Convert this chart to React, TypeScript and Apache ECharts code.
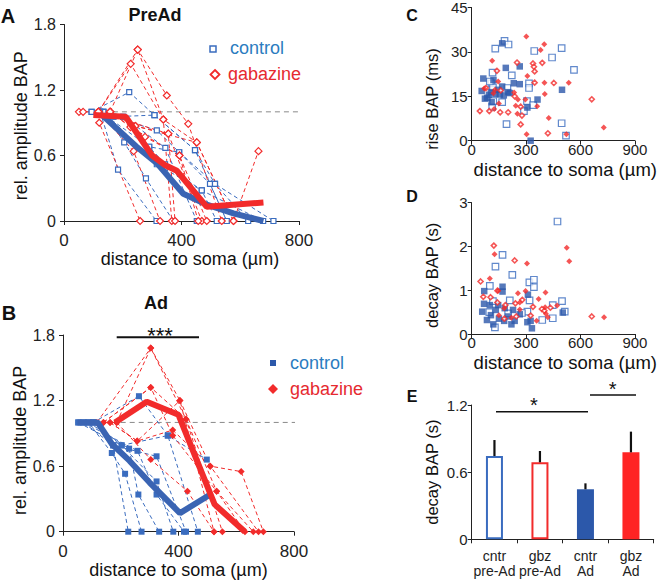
import React, { useEffect, useRef } from 'react';
import * as echarts from 'echarts';

// ---------- Panel A (PreAd): individual traces [distance µm, rel. amplitude] ----------
const preAdCtrlTraces: number[][][] = [
  [[94, 1.0], [222, 1.18], [308, 0.97], [446, 0.65], [514, 0.34], [627, 0]],
  [[123, 1.0], [168, 0.955], [316, 0.83], [392, 0.63], [497, 0.34], [554, 0]],
  [[134, 1.0], [202, 0.955], [290, 0.68], [344, 0.52], [469, 0.28], [520, 0]],
  [[123, 1.0], [184, 0.47], [315, 0]],
  [[134, 1.0], [205, 0.72], [279, 0.39], [372, 0]],
  [[94, 1.0], [202, 0.955], [345, 0.67], [452, 0]],
  [[134, 1.0], [316, 0.52], [469, 0.28], [678, 0]],
  [[123, 1.0], [290, 0.68], [392, 0.63], [514, 0.34], [713, 0]],
  [[168, 0.955], [308, 0.97], [446, 0.65], [554, 0]],
];
const preAdGbzTraces: number[][][] = [
  [[51, 1.0], [65, 1.0], [117, 1.0], [251, 1.57], [350, 1.15], [423, 0.89], [537, 0]],
  [[117, 1.0], [227, 1.44], [338, 0.93], [452, 0.72], [577, 0]],
  [[117, 1.0], [120, 0.9], [259, 0]],
  [[157, 1.0], [243, 0.87], [355, 0.8], [469, 0]],
  [[157, 1.0], [276, 0.77], [393, 0.6], [486, 0]],
  [[117, 1.0], [237, 0.64], [327, 0]],
  [[157, 1.0], [251, 1.57], [338, 0.93], [367, 0]],
  [[157, 1.0], [243, 0.87], [452, 0.72], [577, 0], [662, 0.64]],
  [[157, 1.0], [226, 0.86], [393, 0.6], [457, 0]],
  [[117, 1.0], [355, 0.8], [378, 0]],
];
const preAdCtrlMean: number[][] = [[130, 0.97], [247, 0.68], [316, 0.53], [406, 0.25], [486, 0.15], [577, 0.07], [679, 0]];
const preAdGbzMean: number[][] = [[100, 0.97], [210, 0.955], [300, 0.6], [345, 0.51], [384, 0.46], [486, 0.13], [679, 0.17]];

// ---------- Panel B (Ad) ----------
const adCtrlTraces: number[][][] = [
  [[53, 1], [105, 1], [263, 1.24], [363, 0.88], [498, 0.66]],
  [[71, 1], [174, 0.79], [324, 0.69], [426, 0]],
  [[88, 1], [169, 0.72], [215, 0.53], [272, 0]],
  [[105, 1], [203, 0.79], [324, 0.46], [382, 0]],
  [[88, 1], [229, 0.76], [261, 0.34], [333, 0]],
  [[71, 1], [258, 0.74], [324, 0.34], [419, 0]],
  [[105, 1], [174, 0.79], [226, 0]],
  [[53, 1], [203, 0.79], [363, 0.88], [467, 0]],
];
const adGbzTraces: number[][][] = [
  [[117, 1], [304, 1.68], [405, 1.2], [523, 0]],
  [[140, 1], [304, 1.32], [426, 1.03], [552, 0]],
  [[163, 1], [257, 0.83], [380, 0.93], [510, 0.6], [617, 0.55], [694, 0]],
  [[186, 1], [304, 0.66], [431, 0.37], [523, 0]],
  [[140, 1], [304, 1.32], [380, 0.88], [532, 0.37], [659, 0]],
  [[163, 1], [257, 0.83], [405, 1.2], [510, 0.6], [677, 0]],
  [[186, 1], [304, 1.68], [426, 1.03], [532, 0.37], [630, 0]],
];
const adCtrlMean: number[][] = [[50, 1.0], [120, 1.0], [170, 0.8], [230, 0.65], [300, 0.45], [405, 0.17], [510, 0.34]];
const adGbzMean: number[][] = [[180, 1.0], [290, 1.19], [400, 1.07], [525, 0.25], [630, 0]];
const refLine: number[][] = [[44, 1], [820, 1]];

// ---------- Panel C: rise BAP (ms) vs distance ----------
const riseCtrlPre: number[][] = [[181, 33.7], [203, 32.5], [130, 31.1], [345, 30.3], [496, 31.3], [443, 28.1], [564, 23.9], [221, 22.1], [115, 23], [109, 19.4], [316, 19.4], [316, 17.8], [197, 17.8], [117, 18], [100, 20], [168, 13], [113, 11.4], [305, 13.4], [339, 12], [288, 10], [192, 5.6], [496, 5.9], [520, 1.7], [119, 13.4]];
const riseCtrlAd: number[][] = [[168, 32.9], [265, 25.1], [188, 24.6], [64, 21], [232, 19.4], [265, 19.1], [168, 18.3], [55, 16.8], [106, 16.4], [146, 17.2], [201, 16.4], [498, 17.2], [73, 14.2], [95, 15.5], [131, 15.8], [177, 15.3], [210, 16.1], [363, 13.9], [307, 11.2], [110, 13], [325, 0], [155, 15.6], [85, 14.5], [120, 20.5]];
const riseGbzPre: number[][] = [[250, 26.4], [338, 26.1], [343, 25], [347, 23.4], [389, 26.3], [139, 23.6], [347, 19.6], [453, 19.5], [662, 14], [237, 15], [270, 11.5], [277, 8.5], [201, 9.6], [157, 9.6], [97, 10], [45, 10], [420, 2.5], [270, 5.5], [78, 17.8], [160, 17]];
const riseGbzAd: number[][] = [[301, 35.2], [400, 32.6], [380, 30.6], [113, 27], [307, 21.9], [401, 19.6], [535, 19.6], [146, 20], [403, 15.8], [234, 16.3], [128, 17.2], [255, 13.9], [243, 11.8], [361, 11.6], [150, 12.6], [69, 17.6], [124, 10.7], [252, 9.1], [425, 7.7], [303, 2.2], [522, 2.2], [728, 4.5], [296, 13.9], [120, 16]];

// ---------- Panel D: decay BAP (s) vs distance ----------
const decayCtrlPre: number[][] = [[473, 2.57], [170, 1.81], [131, 1.54], [224, 1.35], [318, 1.18], [343, 1.24], [343, 1.07], [100, 1.1], [498, 0.75], [117, 0.75], [210, 0.77], [319, 0.77], [307, 0.51], [447, 0.66], [513, 0.51], [447, 0.36], [277, 0.48], [128, 0.15], [97, 0.5], [201, 0.47], [389, 0.32]];
const decayCtrlAd: number[][] = [[69, 0.98], [170, 1.08], [170, 0.97], [310, 0.9], [68, 0.69], [100, 0.66], [146, 0.66], [182, 0.59], [228, 0.55], [58, 0.51], [106, 0.43], [133, 0.55], [84, 0.32], [179, 0.3], [237, 0.3], [325, 0.3], [332, 0.13], [307, 0.27], [502, 0.49], [219, 0.22], [119, 0.22], [265, 0.45], [150, 0.35], [200, 0.4]];
const decayGbzPre: number[][] = [[122, 2.02], [237, 1.68], [49, 1.2], [104, 0.84], [142, 0.72], [64, 0.85], [142, 0.99], [186, 0.66], [241, 0.7], [279, 0.78], [338, 0.62], [387, 0.57], [434, 0.6], [662, 0.4], [246, 0.4], [401, 0.53], [325, 0.42], [180, 0.35]];
const decayGbzAd: number[][] = [[126, 1.82], [305, 1.61], [524, 1.97], [538, 1.66], [100, 1.27], [255, 0.93], [297, 0.98], [407, 0.95], [146, 0.99], [369, 0.8], [265, 0.56], [409, 0.46], [405, 0.61], [179, 0.59], [265, 0.72], [730, 0.38], [471, 0.65], [358, 0.3], [150, 0.43], [219, 0.37], [420, 0.38]];

// ---------- Panel E: mean decay BAP (s) ----------
const barCategories = ['cntr\npre-Ad', 'gbz\npre-Ad', 'cntr\nAd', 'gbz\nAd'];
const barMeans = [0.744, 0.688, 0.447, 0.777];
const barUpper = [0.887, 0.789, 0.5, 0.962];

const FONT = '"Liberation Sans", Arial, Helvetica, sans-serif';
const AXIS = '#222';
const BLUE = '#3a6cbf';
const BLUE_THICK = '#3a64b3';
const BLUE_FILL = '#2c58aa';
const BLUE_TEXT = '#2b7cc0';
const RED = '#f22b2b';
const RED_TEXT = '#e62a30';

const fmt1 = (v: number) => (v === 0 ? '0' : v.toFixed(1));

function valueAxis(grid: number, min: number, max: number, interval: number, name: string, nameGap: number, labelSize: number, nameSize: number, margin: number, extra: any = {}) {
  return {
    type: 'value', gridIndex: grid, min, max, interval, name, nameLocation: 'middle', nameGap,
    nameTextStyle: { fontFamily: FONT, fontSize: nameSize, color: '#111', ...(extra.nameStyle || {}) },
    axisLine: { show: true, onZero: false, lineStyle: { color: AXIS, width: 1 } },
    axisTick: { show: true, length: 4, lineStyle: { color: AXIS } },
    splitLine: { show: false },
    axisLabel: { fontFamily: FONT, fontSize: labelSize, color: '#222', margin, formatter: extra.formatter },
  };
}

export default function App() {
  const ref = useRef<HTMLDivElement>(null);
  useEffect(() => {
    if (!ref.current) return;
    const chart = echarts.init(ref.current, undefined, { renderer: 'svg' });

    const traceSeries = (traces: number[][][], grid: number, color: string, symbol: string, size: number, filled: boolean) =>
      traces.map((t) => ({
        type: 'line', xAxisIndex: grid, yAxisIndex: grid, data: t, symbol, symbolSize: size, clip: false,
        lineStyle: { color, width: 1, type: [4, 3] },
        itemStyle: filled ? { color } : { color: '#fff', borderColor: color, borderWidth: 1.2 },
        z: 2, silent: true,
      }));
    const meanSeries = (data: number[][], grid: number, color: string) => ({
      type: 'line', xAxisIndex: grid, yAxisIndex: grid, data, symbol: 'none', clip: false,
      lineStyle: { color, width: 6 }, z: 4, silent: true,
    });
    const refSeries = (grid: number) => ({
      type: 'line', xAxisIndex: grid, yAxisIndex: grid, data: refLine, symbol: 'none', clip: false,
      lineStyle: { color: '#8a8a8a', width: 1, type: [5, 4] }, z: 1, silent: true,
    });
    const scatter = (data: number[][], grid: number, symbol: string, size: number, style: any) => ({
      type: 'scatter', xAxisIndex: grid, yAxisIndex: grid, data, symbol, symbolSize: size, itemStyle: style, silent: true,
    });

    const barStyles = [
      { color: '#fff', borderColor: BLUE, borderWidth: 2 },
      { color: '#fff', borderColor: RED, borderWidth: 2 },
      { color: BLUE_FILL },
      { color: '#ff2424' },
    ];

    const text = (t: string, x: number, y: number, size: number, color = '#111', bold = false, align = 'center') => ({
      type: 'text', x, y, silent: true,
      style: { text: t, fontFamily: FONT, fontSize: size, fontWeight: bold ? 'bold' : 'normal', fill: color, textAlign: align, textVerticalAlign: 'middle' },
    });
    const diamond = (cx: number, cy: number, r: number, style: any) => ({
      type: 'polygon', silent: true, shape: { points: [[cx, cy - r], [cx + r, cy], [cx, cy + r], [cx - r, cy]] }, style,
    });

    const openSq = { color: '#fff', borderColor: BLUE, borderWidth: 1.2 };
    const openDia = { color: '#fff', borderColor: RED, borderWidth: 1.6 };

    const option: any = {
      animation: false,
      grid: [
        { left: 64, top: 24.5, width: 235, height: 196.5 },
        { left: 63, top: 335, width: 231, height: 196.7 },
        { left: 471.7, top: 6.2, width: 164.3, height: 134.5 },
        { left: 471.7, top: 202.7, width: 164.3, height: 131.3 },
        { left: 471.7, top: 405, width: 182, height: 134.3 },
      ],
      xAxis: [
        valueAxis(0, 0, 800, 400, 'distance to soma (µm)', 28, 17, 18, 11, { nameStyle: { padding: [0, 0, 0, 17] } }),
        valueAxis(1, 0, 800, 400, 'distance to soma (µm)', 29, 17, 18, 11),
        valueAxis(2, 0, 900, 300, 'distance to soma (µm)', 19, 15, 18.5, 1, { nameStyle: { padding: [0, 0, 0, 24] } }),
        valueAxis(3, 0, 900, 300, 'distance to soma (µm)', 18.5, 15, 18.5, 1, { nameStyle: { padding: [0, 0, 0, 24] } }),
        {
          type: 'category', gridIndex: 4, data: barCategories, boundaryGap: true,
          axisLine: { show: true, lineStyle: { color: AXIS, width: 1 } },
          axisTick: { show: true, length: 4, alignWithLabel: false, lineStyle: { color: AXIS } },
          axisLabel: { fontFamily: FONT, fontSize: 14, lineHeight: 15, color: '#222', margin: 9, interval: 0 },
        },
      ],
      yAxis: [
        valueAxis(0, 0, 1.8, 0.6, 'rel. amplitude BAP', 32, 16, 18, 8, { formatter: fmt1, nameStyle: { padding: [0, 6, 0, 0] } }),
        valueAxis(1, 0, 1.8, 0.6, 'rel. amplitude BAP', 31, 16, 18, 8, { formatter: fmt1, nameStyle: { padding: [0, 14, 0, 0] } }),
        valueAxis(2, 0, 45, 15, 'rise BAP (ms)', 31.5, 15, 16.5, 4, { nameStyle: { padding: [0, 50, 0, 0] } }),
        valueAxis(3, 0, 3, 1, 'decay BAP (s)', 31.5, 15, 16.5, 4, { nameStyle: { padding: [0, 14, 0, 0] } }),
        valueAxis(4, 0, 1.2, 0.6, 'decay BAP (s)', 31.5, 15, 16.5, 4, { formatter: fmt1 }),
      ],
      series: [
        refSeries(0),
        ...traceSeries(preAdCtrlTraces, 0, BLUE, 'rect', 5, false),
        ...traceSeries(preAdGbzTraces, 0, RED, 'diamond', 7, false),
        meanSeries(preAdCtrlMean, 0, BLUE_THICK),
        meanSeries(preAdGbzMean, 0, RED),
        refSeries(1),
        ...traceSeries(adCtrlTraces, 1, BLUE, 'rect', 6, true),
        ...traceSeries(adGbzTraces, 1, RED, 'diamond', 7, true),
        meanSeries(adCtrlMean, 1, BLUE_THICK),
        meanSeries(adGbzMean, 1, RED),
        scatter(riseCtrlPre, 2, 'rect', 6.5, openSq),
        scatter(riseCtrlAd, 2, 'rect', 6.5, { color: BLUE_FILL }),
        scatter(riseGbzPre, 2, 'diamond', 5, openDia),
        scatter(riseGbzAd, 2, 'diamond', 6, { color: RED }),
        scatter(decayCtrlPre, 3, 'rect', 6.5, openSq),
        scatter(decayCtrlAd, 3, 'rect', 6.5, { color: BLUE_FILL }),
        scatter(decayGbzPre, 3, 'diamond', 5, openDia),
        scatter(decayGbzAd, 3, 'diamond', 6, { color: RED }),
        {
          type: 'bar', xAxisIndex: 4, yAxisIndex: 4, barWidth: 17, silent: true,
          data: barMeans.map((v, i) => ({ value: v, itemStyle: barStyles[i] })),
        },
        {
          type: 'custom', xAxisIndex: 4, yAxisIndex: 4, silent: true, z: 5,
          data: barMeans.map((m, i) => [i, m, barUpper[i]]),
          renderItem: (_p: any, api: any) => {
            const a = api.coord([api.value(0), api.value(1)]);
            const b = api.coord([api.value(0), api.value(2)]);
            return { type: 'line', shape: { x1: a[0], y1: a[1], x2: b[0], y2: b[1] }, style: { stroke: '#111', lineWidth: 2.2 } };
          },
        },
      ],
      graphic: [
        text('A', 8, 16, 20, '#111', true),
        text('PreAd', 155, 15, 18, '#111', true),
        text('B', 9, 313, 20, '#111', true),
        text('Ad', 156, 303, 18, '#111', true),
        text('C', 412, 15, 16, '#111', true),
        text('D', 412, 196, 16, '#111', true),
        text('E', 412, 396, 16, '#111', true),
        // legend A
        { type: 'rect', silent: true, shape: { x: 210, y: 46, width: 6, height: 6 }, style: { fill: '#fff', stroke: BLUE, lineWidth: 1.5 } },
        text('control', 230, 48, 18, BLUE_TEXT, false, 'left'),
        diamond(215, 74.5, 4.5, { fill: '#fff', stroke: RED, lineWidth: 1.8 }),
        text('gabazine', 228, 74, 18, RED_TEXT, false, 'left'),
        // legend B
        { type: 'rect', silent: true, shape: { x: 270, y: 360, width: 6, height: 6 }, style: { fill: BLUE_FILL } },
        text('control', 290, 363, 18, BLUE_TEXT, false, 'left'),
        diamond(273, 389, 5, { fill: RED }),
        text('gabazine', 290, 389, 18, RED_TEXT, false, 'left'),
        // significance B
        { type: 'line', silent: true, shape: { x1: 116.7, y1: 337.3, x2: 199, y2: 337.3 }, style: { stroke: '#111', lineWidth: 2 } },
        text('***', 160, 335, 22, '#111', false),
        // significance E
        { type: 'line', silent: true, shape: { x1: 496, y1: 411.7, x2: 588, y2: 411.7 }, style: { stroke: '#111', lineWidth: 1.5 } },
        text('*', 534, 405, 20, '#111', false),
        { type: 'line', silent: true, shape: { x1: 590, y1: 395, x2: 636, y2: 395 }, style: { stroke: '#111', lineWidth: 1.5 } },
        text('*', 612.7, 389, 20, '#111', false),
      ],
    };
    chart.setOption(option);
    return () => chart.dispose();
  }, []);
  return <div ref={ref} style={{ position: 'fixed', left: 0, top: 0, width: 659, height: 582, background: '#fff' }} />;
}
